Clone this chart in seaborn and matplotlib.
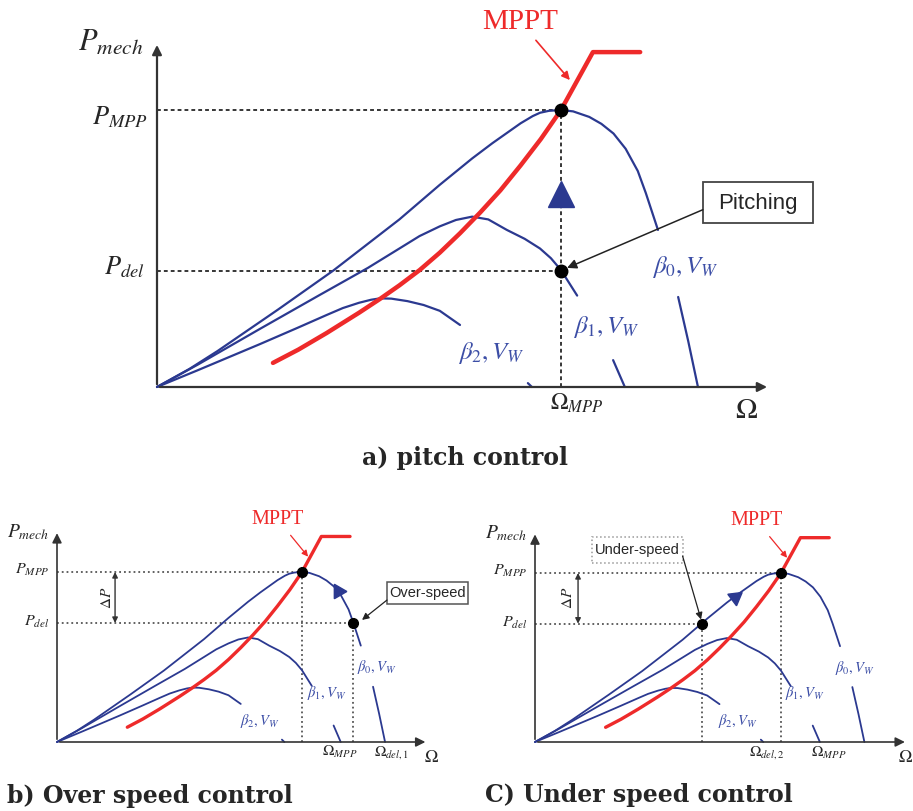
import seaborn as sns
import matplotlib.pyplot as plt
from matplotlib.patches import Rectangle

# curve points (Omega / Omega_MPP, P / P_MPP)
beta0_x = [0, 0.08, 0.15, 0.3, 0.436, 0.6, 0.7, 0.78, 0.83, 0.866, 0.9, 0.93, 0.948, 0.97,
           1.0, 1.03, 1.07, 1.10, 1.13, 1.16, 1.19, 1.21, 1.24]
beta0_y = [0, 0.065, 0.13, 0.28, 0.42, 0.605, 0.73, 0.825, 0.88, 0.917, 0.952, 0.978, 0.99, 0.997,
           1.0, 0.995, 0.975, 0.95, 0.915, 0.86, 0.78, 0.70, 0.567]
beta0_tail_x = [1.29, 1.315, 1.339]
beta0_tail_y = [0.325, 0.165, 0]
beta1_x = [0, 0.1, 0.255, 0.4, 0.522, 0.6, 0.65, 0.7, 0.74, 0.78, 0.82, 0.866, 0.91, 0.948, 0.975, 1.0, 1.04]
beta1_y = [0, 0.08, 0.21, 0.33, 0.43, 0.5, 0.545, 0.58, 0.603, 0.615, 0.605, 0.567, 0.535, 0.5, 0.465, 0.422, 0.33]
beta1_tail_x = [1.129, 1.158]
beta1_tail_y = [0.097, 0]
beta2_x = [0, 0.1, 0.255, 0.35, 0.42, 0.46, 0.5, 0.53, 0.552, 0.58, 0.62, 0.66, 0.7, 0.75]
beta2_y = [0, 0.06, 0.155, 0.215, 0.26, 0.285, 0.304, 0.315, 0.32, 0.319, 0.31, 0.296, 0.275, 0.224]
beta2_tail_x = [0.918, 0.928]
beta2_tail_y = [0.014, 0]
mppt_x = [0.287, 0.35, 0.42, 0.5, 0.552, 0.6, 0.65, 0.7, 0.75, 0.8, 0.85, 0.9, 0.95, 1.0, 1.079, 1.196]
mppt_y = [0.087, 0.135, 0.195, 0.268, 0.318, 0.367, 0.422, 0.485, 0.555, 0.63, 0.71, 0.8, 0.895, 1.0, 1.209, 1.209]

# operating points per panel
p_del_a = 0.42
p_del_bc = 0.70
omega_del1 = 1.21
omega_del2 = 0.68

BLUE = "#2b3990"
LBLUE = "#3c4ea6"
RED = "#ee2a2a"

sns.set_theme(style="white")
plt.rcParams["mathtext.fontset"] = "stix"
plt.rcParams["font.family"] = ["DejaVu Sans"]

W, H = 913, 811
fig = plt.figure(figsize=(W / 100, H / 100), dpi=100)


def panel(ox, oy, sx, sy, xlim, ylim):
    left = ox + xlim[0] * sx
    right = ox + xlim[1] * sx
    top = oy - ylim[1] * sy
    bottom = oy - ylim[0] * sy
    ax = fig.add_axes([left / W, 1 - bottom / H, (right - left) / W, (bottom - top) / H])
    ax.set_xlim(xlim)
    ax.set_ylim(ylim)
    ax.axis("off")
    return ax


def curves(ax, lwb, lwr):
    segs = [(beta0_x, beta0_y), (beta0_tail_x, beta0_tail_y),
            (beta1_x, beta1_y), (beta1_tail_x, beta1_tail_y),
            (beta2_x, beta2_y), (beta2_tail_x, beta2_tail_y)]
    for sx_, sy_ in segs:
        sns.lineplot(x=sx_, y=sy_, sort=False, estimator=None, color=BLUE, lw=lwb, ax=ax)
    sns.lineplot(x=mppt_x, y=mppt_y, sort=False, estimator=None, color=RED, lw=lwr, ax=ax)


def axes_arrows(ax, xe, ye, lw):
    ax.annotate("", xy=(xe, 0), xytext=(0, 0),
                arrowprops=dict(arrowstyle="-|>", color="#333333", lw=lw, mutation_scale=14))
    ax.annotate("", xy=(0, ye), xytext=(0, 0),
                arrowprops=dict(arrowstyle="-|>", color="#333333", lw=lw, mutation_scale=14))


def beta_labels(ax, pos, fs):
    for i, (x, y) in enumerate(pos):
        ax.text(x, y, r"$\beta_%d, V_W$" % i, color=LBLUE, fontsize=fs, ha="center", va="center")


# ---------- a) pitch control ----------
ax = panel(157, 387, 404, 277, (-0.35, 1.7), (-0.15, 1.4))
dash = (0, (2.5, 2))
ax.plot([0, 1], [1, 1], color="black", lw=1.1, ls=dash)
ax.plot([0, 1], [p_del_a, p_del_a], color="black", lw=1.1, ls=dash)
ax.plot([1, 1], [0, 1], color="black", lw=1.1, ls=dash)
curves(ax, 1.6, 3.2)
axes_arrows(ax, 1.517, 1.245, 1.6)
ax.plot([1, 1], [1, p_del_a], "o", color="black", ms=9)
ax.plot(1.0, 0.697, "^", color=BLUE, ms=19)
ax.text(-0.116, 1.245, r"$P_{mech}$", fontsize=22, ha="center", va="center")
ax.text(-0.022, 0.975, r"$P_{MPP}$", fontsize=19, ha="right", va="center")
ax.text(-0.03, 0.43, r"$P_{del}$", fontsize=19, ha="right", va="center")
ax.text(1.04, -0.058, r"$\Omega_{MPP}$", fontsize=17, ha="center", va="center")
ax.text(1.46, -0.083, r"$\Omega$", fontsize=21, ha="center", va="center")
beta_labels(ax, [(1.307, 0.433), (1.111, 0.217), (0.827, 0.123)], 18)
ax.annotate("MPPT", xy=(1.022, 1.108), xytext=(0.899, 1.318), color=RED, fontsize=21,
            family="Liberation Serif", ha="center", va="center",
            arrowprops=dict(arrowstyle="-|>", color=RED, lw=1.2, mutation_scale=12, shrinkA=2, shrinkB=0))
ax.add_patch(Rectangle((1.351, 0.592), 0.273, 0.148, fc="white", ec="#444444", lw=1.3, clip_on=False))
ax.text(1.488, 0.664, "Pitching", fontsize=16, family="Liberation Sans", ha="center", va="center")
ax.annotate("", xy=(1.015, 0.43), xytext=(1.351, 0.64),
            arrowprops=dict(arrowstyle="-|>", color="#222222", lw=1.1, mutation_scale=14, shrinkA=0, shrinkB=0))


def small_common(ax):
    dot = ":"
    ax.plot([0, 1], [1, 1], color="#555555", lw=1.3, ls=dot)
    ax.plot([1, 1], [0, 1], color="#555555", lw=1.3, ls=dot)
    curves(ax, 1.3, 2.4)
    axes_arrows(ax, 1.515, 1.245, 1.2)
    ax.text(-0.118, 1.235, r"$P_{mech}$", fontsize=14, ha="center", va="center")
    ax.text(-0.03, 1.01, r"$P_{MPP}$", fontsize=11.5, ha="right", va="center")
    ax.text(-0.03, 0.705, r"$P_{del}$", fontsize=11.5, ha="right", va="center")
    ax.annotate("MPPT", xy=(1.025, 1.09), xytext=(0.9, 1.31), color=RED, fontsize=14.5,
                family="Liberation Serif", ha="center", va="center",
                arrowprops=dict(arrowstyle="-|>", color=RED, lw=0.9, mutation_scale=9, shrinkA=3, shrinkB=0))
    ax.plot(1, 1, "o", color="black", ms=7)


# ---------- b) over speed control ----------
ax = panel(57, 742, 245, 170, (-0.2, 1.72), (-0.15, 1.45))
ax.plot([0, omega_del1], [p_del_bc, p_del_bc], color="#555555", lw=1.3, ls=":")
ax.plot([omega_del1, omega_del1], [0, p_del_bc], color="#555555", lw=1.3, ls=":")
small_common(ax)
ax.plot(omega_del1, p_del_bc, "o", color="black", ms=7)
ax.plot(1.145, 0.89, marker=(3, 0, 30), color=BLUE, ms=12)
ax.annotate("", xy=(0.237, 1.0), xytext=(0.237, p_del_bc),
            arrowprops=dict(arrowstyle="<|-|>", color="#333333", lw=1, mutation_scale=8, shrinkA=0, shrinkB=0))
ax.text(0.204, 0.85, r"$\Delta P$", fontsize=11, rotation=90, ha="center", va="center")
beta_labels(ax, [(1.306, 0.44), (1.10, 0.29), (0.83, 0.125)], 10.5)
ax.text(1.155, -0.06, r"$\Omega_{MPP}$", fontsize=11, ha="center", va="center")
ax.text(1.367, -0.06, r"$\Omega_{del,1}$", fontsize=11, ha="center", va="center")
ax.text(1.527, -0.088, r"$\Omega$", fontsize=13, ha="center", va="center")
ax.add_patch(Rectangle((1.347, 0.812), 0.331, 0.129, fc="white", ec="#555555", lw=1.1, clip_on=False))
ax.text(1.512, 0.876, "Over-speed", fontsize=10.5, family="Liberation Sans", ha="center", va="center")
ax.annotate("", xy=(1.245, 0.718), xytext=(1.347, 0.835),
            arrowprops=dict(arrowstyle="-|>", color="#222222", lw=0.9, mutation_scale=10, shrinkA=0, shrinkB=0))

# ---------- c) under speed control ----------
ax = panel(535, 742, 246, 169, (-0.2, 1.54), (-0.15, 1.45))
ax.plot([0, omega_del2], [p_del_bc, p_del_bc], color="#555555", lw=1.3, ls=":")
ax.plot([omega_del2, omega_del2], [0, p_del_bc], color="#555555", lw=1.3, ls=":")
small_common(ax)
ax.plot(omega_del2, p_del_bc, "o", color="black", ms=7)
ax.plot(0.813, 0.858, marker=(3, 0, -53), color=BLUE, ms=12)
ax.annotate("", xy=(0.175, 1.0), xytext=(0.175, p_del_bc),
            arrowprops=dict(arrowstyle="<|-|>", color="#333333", lw=1, mutation_scale=8, shrinkA=0, shrinkB=0))
ax.text(0.134, 0.85, r"$\Delta P$", fontsize=11, rotation=90, ha="center", va="center")
beta_labels(ax, [(1.30, 0.44), (1.098, 0.29), (0.825, 0.124)], 10.5)
ax.text(0.943, -0.065, r"$\Omega_{del,2}$", fontsize=11, ha="center", va="center")
ax.text(1.195, -0.065, r"$\Omega_{MPP}$", fontsize=11, ha="center", va="center")
ax.text(1.504, -0.09, r"$\Omega$", fontsize=13, ha="center", va="center")
ax.add_patch(Rectangle((0.232, 1.059), 0.37, 0.154, fc="white", ec="#999999", lw=1.1, ls=":", clip_on=False))
ax.text(0.417, 1.136, "Under-speed", fontsize=10.5, family="Liberation Sans", ha="center", va="center")
ax.annotate("", xy=(0.675, 0.725), xytext=(0.6, 1.1),
            arrowprops=dict(arrowstyle="-|>", color="#222222", lw=0.9, mutation_scale=10, shrinkA=0, shrinkB=0))

# ---------- panel titles ----------
tfont = dict(family="DejaVu Serif", fontweight="bold", fontsize=17)
fig.text(362 / W, 1 - 465 / H, "a) pitch control", ha="left", va="baseline", **tfont)
fig.text(7 / W, 1 - 803 / H, "b) Over speed control", ha="left", va="baseline", **tfont)
fig.text(485 / W, 1 - 802 / H, "C) Under speed control", ha="left", va="baseline", **tfont)

fig.savefig("out.png", dpi=100)
